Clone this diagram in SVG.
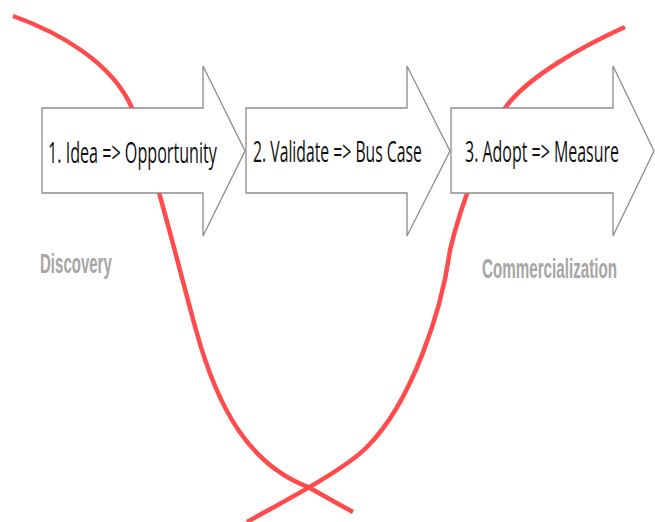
<svg xmlns="http://www.w3.org/2000/svg" width="655" height="522" viewBox="0 0 655 522">
  <style>
    .curve { fill: none; stroke: #ff4b4b; stroke-width: 4.5; stroke-linecap: butt; }
    .arrow { fill: #ffffff; stroke: #8c8c8c; stroke-width: 1.3; stroke-linejoin: miter; }
    .step { font-family: "Open Sans", "Liberation Sans", sans-serif; font-size: 29px; fill: #111111; }
    .phase { font-family: "Liberation Sans", Arial, sans-serif; font-weight: bold; font-size: 28px; fill: #a6a6a6; }
  </style>
  <rect width="655" height="522" fill="#ffffff"/>
  <g id="curves">
    <path class="curve" d="M13,16 C58,32 112,62 132,108 C150,150 182,280 196,330 C218,410 250,465 308,487 C328,498 340,505 353,512"/>
    <path class="curve" d="M247,522 C277,505 342,472 367,447 C412,402 442,310 450,250 C462,200 488,135 505,108 C528,76 585,45 625,27"/>
  </g>
  <g id="step1">
    <polygon class="arrow" points="42,108 203,108 203,66 245,151 203,236 203,193 42,193"/>
    <text class="step" transform="translate(48,163) scale(0.55,1)" x="0" y="0" textLength="307" lengthAdjust="spacingAndGlyphs">1. Idea =&gt; Opportunity</text>
  </g>
  <g id="step2">
    <polygon class="arrow" points="246,108 407,108 407,66 450,151 407,236 407,193 246,193"/>
    <text class="step" transform="translate(253,162) scale(0.55,1)" x="0" y="0" textLength="307" lengthAdjust="spacingAndGlyphs">2. Validate =&gt; Bus Case</text>
  </g>
  <g id="step3">
    <polygon class="arrow" points="451,108 613,108 613,66 654,151 613,236 613,193 451,193"/>
    <text class="step" transform="translate(465,162) scale(0.55,1)" x="0" y="0" textLength="280" lengthAdjust="spacingAndGlyphs">3. Adopt =&gt; Measure</text>
  </g>
  <g id="discovery">
    <text class="phase" transform="translate(40,273) scale(0.54,1)" x="0" y="0" textLength="133" lengthAdjust="spacingAndGlyphs">Discovery</text>
  </g>
  <g id="commercialization">
    <text class="phase" transform="translate(482,278) scale(0.54,1)" x="0" y="0" textLength="250" lengthAdjust="spacingAndGlyphs">Commercialization</text>
  </g>
</svg>
